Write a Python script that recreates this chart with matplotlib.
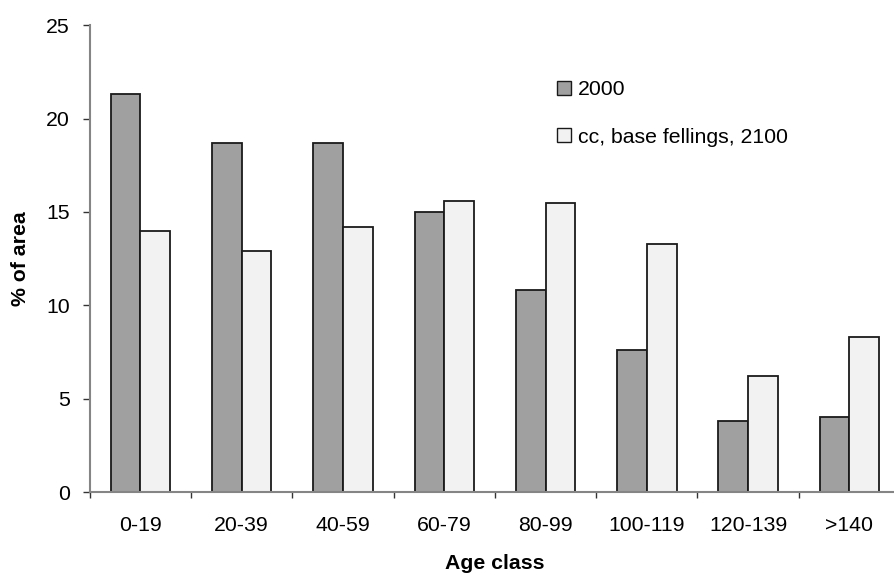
import matplotlib
matplotlib.use("Agg")
import matplotlib.pyplot as plt
import numpy as np
from matplotlib.patches import Patch

# Age-class distribution (% of forest area)
categories = ["0-19", "20-39", "40-59", "60-79", "80-99", "100-119", "120-139", ">140"]
area_2000 = [21.3, 18.7, 18.7, 15.0, 10.8, 7.6, 3.8, 4.0]
area_cc_2100 = [14.0, 12.9, 14.2, 15.6, 15.5, 13.3, 6.2, 8.3]
series_labels = ["2000", "cc, base fellings, 2100"]

plt.rcParams["font.family"] = ["Liberation Sans", "DejaVu Sans"]
FS = 15.3

fig = plt.figure(figsize=(8.94, 5.75), dpi=100)
ax = fig.add_axes([0.1003, 0.1443, 0.9065, 0.8117])

x = np.arange(len(categories))
w = 0.293
c_2000 = "#a0a0a0"
c_2100 = "#f2f2f2"
ax.bar(x - w / 2, area_2000, width=w, color=c_2000, edgecolor="#1a1a1a", linewidth=1.3)
ax.bar(x + w / 2, area_cc_2100, width=w, color=c_2100, edgecolor="#1a1a1a", linewidth=1.3)

ax.set_xlim(-0.5, len(categories) - 0.5)
ax.set_ylim(0, 25)
ax.set_yticks([0, 5, 10, 15, 20, 25])

# category labels centred, tick marks between groups
ax.set_xticks(x)
ax.set_xticklabels(categories)
ax.set_xticks(np.arange(-0.5, len(categories), 1.0), minor=True)
ax.tick_params(axis="x", which="major", length=0, pad=17.5, labelsize=FS)
ax.tick_params(axis="x", which="minor", length=4.3, width=1.0, color="#333333", direction="out")
ax.tick_params(axis="y", length=5, width=1.0, color="#333333", pad=9.4, labelsize=FS)

for side in ("top", "right"):
    ax.spines[side].set_visible(False)
for side in ("left", "bottom"):
    ax.spines[side].set_color("#858585")
    ax.spines[side].set_linewidth(1.5)

ax.set_xlabel("Age class", fontsize=FS, fontweight="bold")
ax.xaxis.set_label_coords(0.5, -0.153)
ax.xaxis.label.set_va("center")
ax.set_ylabel("% of area", fontsize=FS, fontweight="bold")
ax.yaxis.set_label_coords(-0.085, 0.5)
ax.yaxis.label.set_va("center")

handles = [
    Patch(facecolor=c_2000, edgecolor="#1a1a1a", linewidth=1.0),
    Patch(facecolor=c_2100, edgecolor="#1a1a1a", linewidth=1.0),
]
ax.legend(handles, series_labels, loc="upper left", bbox_to_anchor=(0.5766, 0.882),
          bbox_transform=ax.transAxes, frameon=False, fontsize=FS,
          handlelength=0.67, handleheight=0.67, handletextpad=0.3,
          labelspacing=1.33, borderpad=0, borderaxespad=0)

fig.savefig("out.png", dpi=100)
